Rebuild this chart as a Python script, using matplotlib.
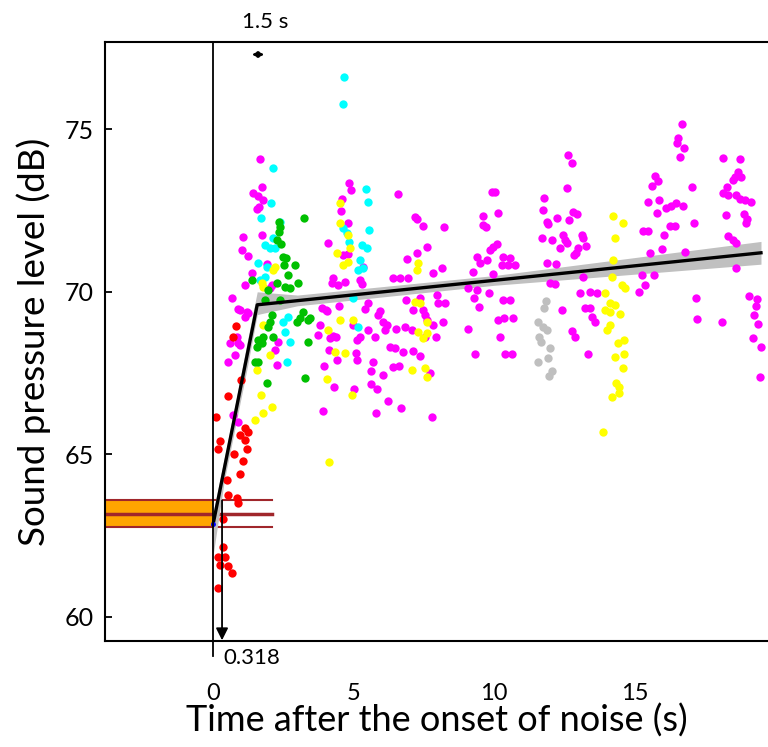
import numpy as np
import matplotlib.pyplot as plt
from matplotlib.patches import Rectangle

plt.rcParams['font.family'] = ['Lato', 'DejaVu Sans']

# --- data (x = time in s, y = SPL in dB) ---
red_x = [0.82, 0.71, 1.00, 0.53, 0.11, 1.14, 1.25, 0.96, 0.25, 1.14, 0.18, 1.21, 0.75,
         1.07, 0.96, 0.50, 0.53, 0.85, 0.89, 0.36, 0.36, 0.18, 0.43, 0.25, 0.53, 0.68, 0.18]
red_y = [68.95, 68.6, 67.3, 66.8, 66.15, 65.8, 65.7, 65.6, 65.4, 65.45, 65.15, 65.15, 65.0,
         64.8, 64.4, 64.2, 63.75, 63.65, 63.5, 63.0, 62.15, 61.85, 61.85, 61.6, 61.55, 61.35, 60.9]

green_x = [3.24, 2.35, 2.38, 2.35, 2.28, 2.42, 2.49, 2.60, 2.53, 2.92, 2.67, 3.02, 1.39,
           2.28, 2.56, 2.74, 1.96, 2.10, 2.03, 1.96, 3.10, 3.38, 2.99, 1.60, 1.78, 1.57,
           1.74, 2.14, 1.49, 1.60, 3.38, 1.92, 3.27, 3.20, 3.45, 1.85, 2.38]
green_y = [72.28, 72.15, 72.0, 71.85, 71.6, 71.48, 71.08, 71.05, 70.83, 70.83, 70.52, 70.28, 70.37,
           70.28, 70.15, 70.12, 70.06, 69.29, 69.08, 68.92, 69.2, 69.14, 69.08, 68.52, 68.62, 68.31,
           68.43, 68.62, 67.85, 67.85, 68.46, 67.2, 67.35, 69.38, 69.2, 69.75, 69.75]

cyan_x = [2.14, 2.06, 1.71, 2.38, 2.14, 1.85, 2.03, 2.21, 1.60, 1.92, 1.85, 1.67, 2.67,
          2.49, 2.56, 2.74, 2.63, 4.66, 4.63, 5.44, 5.52, 5.55, 5.30, 5.48, 4.63, 4.77,
          4.84, 5.23, 5.16, 5.34, 4.98, 5.16]
cyan_y = [73.82, 72.74, 72.28, 72.15, 71.66, 71.45, 71.35, 71.35, 70.89, 70.77, 70.46, 70.37, 69.23,
          69.08, 68.77, 68.46, 67.85, 76.62, 75.78, 73.17, 72.77, 71.91, 71.45, 71.35, 71.97, 71.82,
          71.54, 70.98, 70.68, 70.74, 69.82, 68.92]

yellow_x = [2.21, 2.14, 1.74, 1.78, 1.78, 2.03, 1.57, 1.71, 2.10, 1.78, 1.49, 4.52, 4.52,
            4.80, 4.88, 4.80, 4.63, 4.41, 4.06, 4.70, 4.34, 4.52, 4.95, 4.13, 4.09, 4.98,
            7.19, 7.37, 7.62, 7.30, 7.62, 7.47, 7.08, 7.54, 7.62, 7.30, 7.26,
            14.23, 14.59, 14.31, 14.23, 14.20, 14.56, 14.66, 13.95, 14.13, 14.31, 13.95, 14.13,
            14.48, 14.13, 14.02, 14.41, 14.63, 14.31, 14.63, 14.59, 14.34, 14.45, 14.20, 14.45, 13.88]
yellow_y = [70.77, 70.68, 70.28, 70.15, 68.98, 68.06, 67.6, 66.83, 66.46, 66.28, 66.06, 72.74, 72.12,
            71.75, 71.35, 70.92, 70.83, 71.2, 67.32, 68.12, 68.15, 69.14, 66.83, 64.77, 68.83, 69.14,
            69.69, 69.66, 69.08, 68.77, 68.74, 68.58, 67.6, 67.66, 67.38, 70.89, 70.68,
            72.34, 72.12, 71.66, 70.98, 70.46, 70.22, 70.12, 69.97, 69.66, 69.6, 69.45, 69.38,
            69.32, 68.98, 68.83, 68.43, 68.52, 68.0, 68.09, 67.66, 67.2, 67.08, 66.77, 66.89, 65.69]

gray_x = [11.85, 11.78, 11.57, 11.74, 11.89, 11.60, 11.67, 11.99, 11.92, 11.57, 12.06, 11.96]
gray_y = [69.72, 69.51, 69.08, 68.92, 68.83, 68.62, 68.46, 68.28, 67.97, 67.85, 67.57, 67.42]

magenta_x = [
    # 0-3 s
    1.67, 1.74, 1.42, 1.60, 1.78, 1.64, 1.57, 1.07, 1.74, 1.03, 1.25, 1.92, 1.39, 1.14, 2.10,
    2.03, 0.68, 0.89, 1.25, 1.14, 1.21, 0.96, 0.85, 0.60, 0.89, 0.96, 0.78, 0.53, 0.71, 0.89,
    2.21, 2.28, 2.31,
    # 3.5-8.5 s
    4.84, 4.91, 6.58, 4.59, 4.56, 4.80, 4.09, 7.19, 7.26, 7.47, 8.22, 7.62, 7.26, 6.90, 4.63,
    4.80, 5.34, 7.83, 8.15, 4.27, 4.45, 4.23, 4.70, 5.23, 5.30, 6.41, 6.65, 6.94, 7.97, 8.01,
    8.26, 6.87, 7.37, 5.52, 5.41, 4.02, 3.88, 4.48, 4.06, 5.94, 5.87, 6.05, 6.19, 6.12, 7.12,
    7.47, 7.54, 7.62, 4.98, 5.52, 3.81, 3.74, 6.51, 6.83, 7.08, 7.83, 8.19, 7.54, 7.94, 4.27,
    4.16, 4.38, 5.77, 5.23, 5.12, 6.30, 6.48, 6.76, 7.12, 7.37, 4.13, 4.41, 5.09, 5.12, 5.69,
    3.95, 6.41, 6.62, 5.62, 6.05, 7.72, 4.31, 5.62, 5.84, 5.02, 6.23, 6.69, 3.91, 5.80, 7.79,
    # 9-13.7 s
    12.63, 12.78, 9.93, 10.04, 12.60, 11.78, 11.74, 10.14, 9.61, 9.61, 9.72, 12.24, 11.89, 11.92,
    12.81, 12.95, 12.67, 10.11, 9.96, 9.86, 11.71, 12.06, 12.46, 12.53, 12.60, 12.35, 13.13, 13.17,
    13.27, 12.99, 12.92, 12.85, 9.40, 9.75, 9.50, 10.32, 10.57, 10.28, 10.50, 10.75, 9.25, 9.96,
    11.89, 12.21, 11.99, 12.17, 13.17, 9.07, 9.40, 9.82, 9.29, 9.47, 10.32, 10.57, 13.06, 13.42,
    13.67, 12.42, 13.24, 13.42, 10.14, 10.36, 10.68, 13.49, 13.59, 9.07, 10.21, 12.78, 12.88, 9.32,
    10.39, 10.64, 13.35,
    # 15-19.5 s
    16.69, 16.55, 16.51, 16.76, 16.62, 18.15, 18.75, 18.68, 18.58, 18.79, 18.51, 15.73, 15.84,
    15.62, 17.05, 18.29, 18.15, 18.33, 18.61, 18.75, 18.93, 19.15, 15.48, 15.87, 16.12, 16.30,
    16.48, 16.73, 15.80, 18.26, 18.90, 19.00, 18.97, 17.12, 16.26, 16.44, 15.30, 15.48, 16.05,
    18.33, 18.51, 18.61, 15.98, 15.55, 16.80, 18.61, 15.27, 15.69, 15.37, 15.16, 17.19, 19.07,
    19.36, 19.32, 17.22, 18.11, 19.25, 19.40, 19.22, 19.50, 19.47]
magenta_y = [
    74.09, 73.23, 73.05, 72.95, 72.83, 72.62, 72.55, 71.69, 71.75, 71.29, 71.11, 70.86, 70.58, 70.22, 70.22,
    70.12, 69.82, 69.48, 69.35, 69.23, 69.38, 69.45, 68.62, 68.43, 68.43, 68.37, 68.06, 67.85, 66.22, 66.0,
    68.22, 67.75, 68.46,
    73.35, 73.14, 73.02, 72.86, 72.49, 72.12, 71.51, 72.31, 72.25, 72.03, 72.0, 71.38, 71.2, 71.02, 71.14,
    71.17, 70.77, 70.58, 70.74, 70.43, 70.22, 70.28, 70.31, 70.37, 70.25, 70.43, 70.43, 70.43, 69.91, 69.66,
    69.66, 69.75, 69.82, 69.66, 69.48, 69.45, 69.51, 69.57, 69.42, 69.42, 69.29, 69.08, 68.98, 68.83, 69.45,
    69.45, 69.29, 69.14, 68.98, 68.83, 68.98, 68.68, 68.86, 68.92, 68.83, 68.98, 69.08, 68.62, 68.62, 68.65,
    68.58, 68.62, 68.62, 68.62, 68.52, 68.31, 68.28, 68.15, 68.18, 68.03, 68.22, 67.91, 68.12, 67.91, 67.85,
    67.72, 67.69, 67.72, 67.57, 67.45, 67.51, 67.08, 67.17, 67.02, 67.02, 66.65, 66.43, 66.34, 66.28, 66.15,
    74.22, 73.97, 73.08, 73.08, 73.2, 72.89, 72.52, 72.43, 72.34, 72.06, 72.0, 72.28, 72.15, 72.09,
    72.46, 72.4, 72.22, 71.48, 71.38, 71.29, 71.66, 71.6, 71.75, 71.6, 71.51, 71.35, 71.75, 71.66,
    71.42, 71.35, 71.2, 71.14, 71.08, 70.98, 70.89, 71.08, 71.05, 70.83, 70.83, 70.83, 70.62, 70.55,
    70.89, 70.86, 70.28, 70.25, 70.46, 70.12, 70.06, 69.97, 69.82, 69.54, 69.75, 69.75, 69.97, 70.0,
    69.97, 69.45, 69.51, 69.51, 69.14, 69.2, 69.2, 69.23, 69.08, 68.86, 68.62, 68.8, 68.62, 68.09,
    68.09, 68.09, 68.09,
    75.17, 74.74, 74.58, 74.43, 74.15, 74.12, 74.09, 73.69, 73.54, 73.54, 73.45, 73.57, 73.42,
    73.26, 73.23, 73.23, 73.05, 72.98, 72.98, 72.86, 72.83, 72.77, 72.77, 72.83, 72.58, 72.65,
    72.74, 72.65, 72.43, 72.37, 72.4, 72.25, 72.12, 72.12, 72.03, 72.03, 71.88, 71.88, 71.75,
    71.72, 71.6, 71.51, 71.32, 71.2, 71.23, 70.74, 70.52, 70.52, 70.22, 70.0, 69.82, 69.88,
    69.78, 69.57, 69.17, 69.08, 69.29, 69.02, 68.58, 68.31, 67.38]

# broken-stick fit and its confidence band
fit_x = [0.0, 1.57, 19.5]
fit_y = [62.85, 69.6, 71.2]
ci_x = [0.0, 0.4, 0.8, 1.2, 1.57, 3.0, 10.0, 19.5]
ci_lo = [61.9, 64.2, 65.9, 67.6, 69.3, 69.57, 70.2, 70.85]
ci_hi = [63.2, 64.9, 66.6, 68.4, 70.0, 69.9, 70.5, 71.55]

# baseline (pre-noise) level: mean and its interval
base_mean = 63.15
base_lo = 62.78
base_hi = 63.58
base_end = 2.1

break_x = 1.6
break_err = 0.22
break_y = 77.3
onset_x = 0.318

fig = plt.figure(figsize=(7.68, 7.47), dpi=100)
ax = fig.add_axes([0.137, 0.142, 0.863, 0.802])

ax.add_patch(Rectangle((-3.84, base_lo), 3.84, base_hi - base_lo,
                       facecolor='#FFA500', edgecolor='none', zorder=1))
for yy, lw in [(base_hi, 1.5), (base_mean, 2.5), (base_lo, 1.5)]:
    ax.plot([-3.84, base_end], [yy, yy], color='#A0262B', lw=lw, zorder=2)

ax.fill_between(ci_x, ci_lo, ci_hi, color='#C0C0C0', lw=0, zorder=3)

dot = dict(s=36, linewidths=0, zorder=4)
ax.scatter(magenta_x, magenta_y, color='#FF00FF', **dot)
ax.scatter(cyan_x, cyan_y, color='#00FFFF', **dot)
ax.scatter(yellow_x, yellow_y, color='#FFFF00', **dot)
ax.scatter(green_x, green_y, color='#00C000', **dot)
ax.scatter(gray_x, gray_y, color='#BFBFBF', **dot)
ax.scatter(red_x, red_y, color='#FF0000', **dot)

ax.plot(fit_x, fit_y, color='black', lw=2.4, zorder=5)
ax.plot([fit_x[0]], [fit_y[0]], 'o', color='blue', ms=2.5, zorder=6)

# onset line at 0 (crosses the bottom axis)
ax.plot([0, 0], [58.8, 77.69], color='black', lw=1.3, zorder=6, clip_on=False)

# onset-of-response arrow
ax.annotate('', xy=(onset_x, 59.28), xytext=(onset_x, base_hi),
            arrowprops=dict(arrowstyle='-|>', color='black', lw=1.3,
                            mutation_scale=18, shrinkA=0, shrinkB=0), zorder=6)
ax.text(onset_x + 0.05, 59.05, '0.318', fontsize=16, ha='left', va='top')

# breakpoint estimate
ax.annotate('', xy=(break_x - break_err, break_y), xytext=(break_x + break_err, break_y),
            arrowprops=dict(arrowstyle='<|-|>', color='black', lw=1.5,
                            mutation_scale=8, shrinkA=0, shrinkB=0))
ax.text(break_x + 0.25, 78.0, '1.5 s', fontsize=16, ha='center', va='bottom')

ax.set_xlim(-3.84, 19.75)
ax.set_ylim(59.26, 77.69)
ax.set_xticks([0, 5, 10, 15])
ax.set_yticks([60, 65, 70, 75])
ax.tick_params(direction='in', length=5, width=1.3, labelsize=17)
ax.tick_params(axis='y', labelsize=18, pad=8)
ax.tick_params(axis='x', length=0, pad=30)
for s in ['left', 'bottom', 'top']:
    ax.spines[s].set_linewidth(1.5)
ax.spines['right'].set_visible(False)

ax.set_xlabel('Time after the onset of noise (s)', fontsize=26, labelpad=0)
ax.set_ylabel('Sound pressure level (dB)', fontsize=26.5, labelpad=10)

fig.savefig('out.png', dpi=100)
